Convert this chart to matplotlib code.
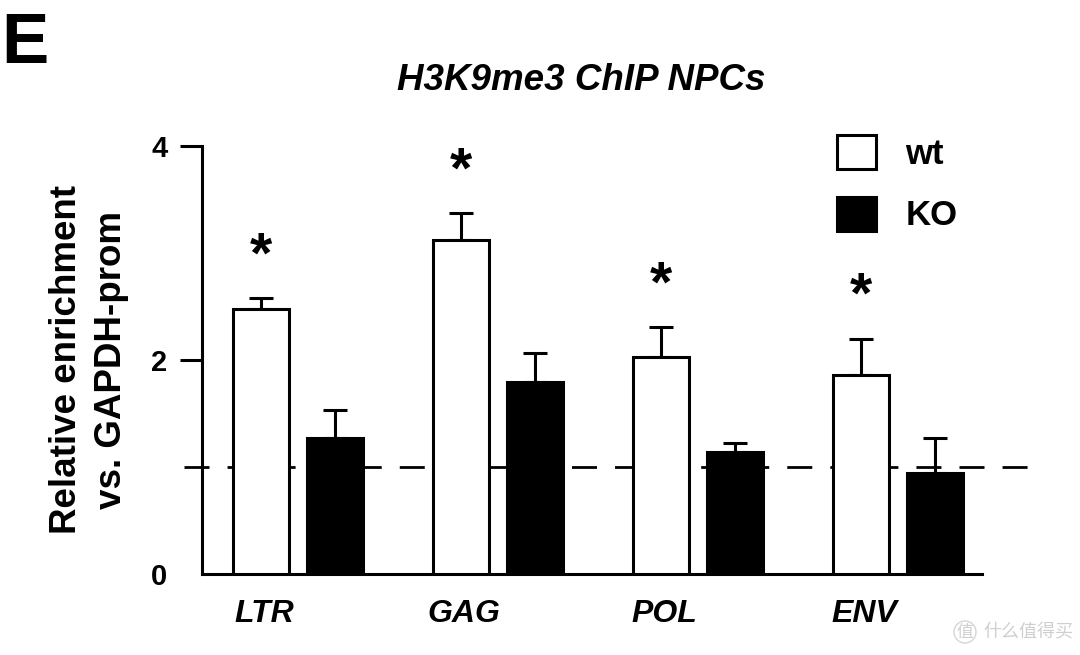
import matplotlib
matplotlib.use("Agg")
import matplotlib.pyplot as plt
import numpy as np
from matplotlib.patches import Patch

plt.rcParams['font.family'] = ['Liberation Sans', 'DejaVu Sans']

categories = ["LTR", "GAG", "POL", "ENV"]
wt_vals = [2.48, 3.12, 2.03, 1.86]
wt_err = [0.10, 0.25, 0.28, 0.34]
ko_vals = [1.27, 1.79, 1.14, 0.94]
ko_err = [0.26, 0.28, 0.08, 0.33]
significant = [True, True, True, True]
yticks = [0, 2, 4]
baseline = 1.0

fig = plt.figure(figsize=(10.8, 6.55), dpi=100)
ax = fig.add_axes([202/1080, 81/655, 838/1080, 428/655])

x = np.arange(len(categories))
w = 0.28
off = 0.185
lw = 2.2

ax.bar(x - off, wt_vals, w, color="white", edgecolor="black", linewidth=lw, zorder=3, label="wt")
ax.bar(x + off, ko_vals, w, color="black", edgecolor="black", linewidth=lw, zorder=3, label="KO")
ax.errorbar(x - off, wt_vals, yerr=[np.zeros(4), wt_err], fmt="none", ecolor="black",
            elinewidth=lw, capsize=8.5, capthick=lw, zorder=2)
ax.errorbar(x + off, ko_vals, yerr=[np.zeros(4), ko_err], fmt="none", ecolor="black",
            elinewidth=lw, capsize=8.5, capthick=lw, zorder=2)

# dashed reference line at 1
ax.plot([-0.57, 3.68], [baseline, baseline], color="black", lw=2.0,
        linestyle=(0, (9, 6.5)), clip_on=False, zorder=1)

# significance stars
for xi, v, e, s in zip(x, wt_vals, wt_err, significant):
    if s:
        ax.text(xi - off, v + e + 0.24, "*", ha="center", va="baseline",
                fontsize=41, fontweight="bold", zorder=4)

ax.set_xlim(-0.48, 3.71)
ax.set_ylim(0, 4)
ax.set_yticks(yticks)
ax.set_yticklabels([str(t) for t in yticks], fontsize=21, fontweight="bold")
ax.tick_params(axis="y", length=16, width=lw, pad=9)
ax.yaxis.get_major_ticks()[0].tick1line.set_visible(False)
ax.set_xticks(x - 0.17)
ax.set_xticklabels(categories, fontsize=23, fontweight="bold", fontstyle="italic")
ax.tick_params(axis="x", length=0, pad=18)

for sp in ["top", "right"]:
    ax.spines[sp].set_visible(False)
ax.spines["left"].set_linewidth(lw)
ax.spines["bottom"].set_linewidth(lw)
ax.spines["left"].set_bounds(0, 4)
ax.spines["bottom"].set_bounds(-0.48, 3.42)

ax.set_ylabel("Relative enrichment\nvs. GAPDH-prom", fontsize=26.5, fontweight="bold",
              va="center", linespacing=1.35)
ax.yaxis.set_label_coords(-0.135, 0.5)

fig.text(581/1080, 1 - 81/655, "H3K9me3 ChIP NPCs", ha="center", va="center",
         fontsize=26.5, fontweight="bold", fontstyle="italic")
fig.text(1/1080, 1 - 45/655, "E", ha="left", va="center", fontsize=51, fontweight="bold")

handles = [Patch(facecolor="white", edgecolor="black", linewidth=lw, label="wt"),
           Patch(facecolor="black", edgecolor="black", linewidth=lw, label="KO")]
leg = ax.legend(handles=handles, loc="upper left",
                bbox_to_anchor=(837/1080, 1 - 135/655), bbox_transform=fig.transFigure,
                frameon=False, prop={"size": 25, "weight": "bold"},
                handlelength=1.12, handleheight=1.12, handletextpad=0.85,
                labelspacing=0.75, borderaxespad=0, borderpad=0)

# watermark
fig.text(965/1080, 1 - 632/655, "值", ha="center", va="center", fontsize=12,
         color="#cfcfcf", family=["Noto Sans CJK SC", "DejaVu Sans"],
         bbox=dict(boxstyle="circle,pad=0.15", fc="none", ec="#d5d5d5", lw=1))
fig.text(983/1080, 1 - 632/655, "什么值得买", ha="left", va="center", fontsize=13,
         color="#cfcfcf", family=["Noto Sans CJK SC", "DejaVu Sans"])

fig.savefig("out.png", dpi=100)
